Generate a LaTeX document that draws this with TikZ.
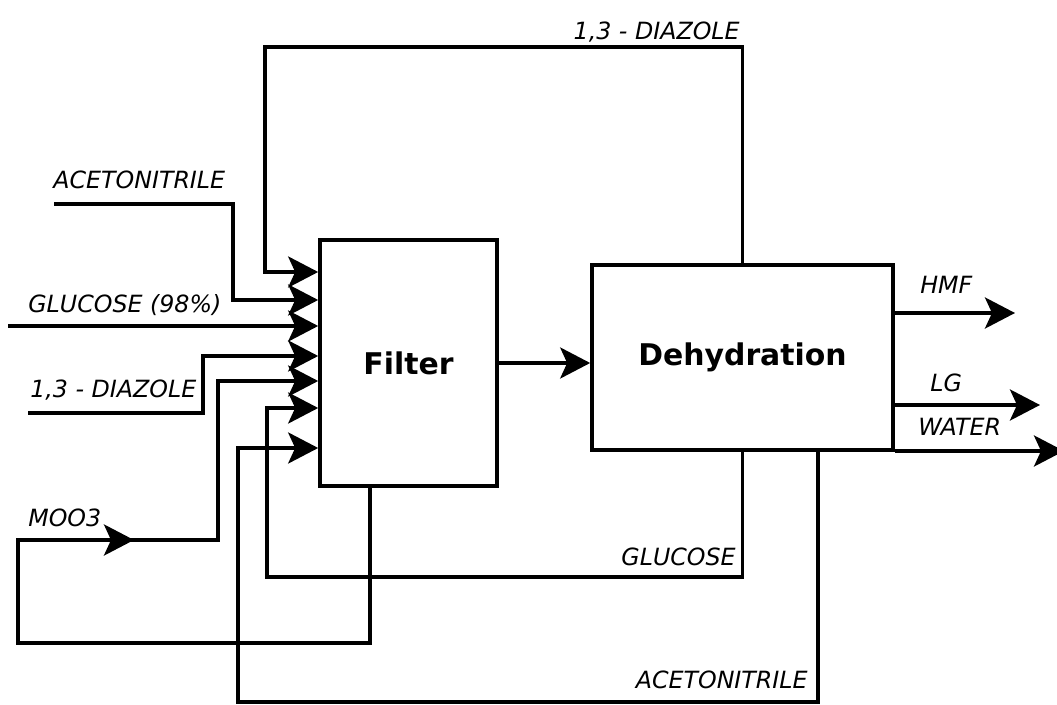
\documentclass[tikz,border=0pt]{standalone}
\usepackage{fontspec}
\setmainfont{DejaVu Sans}
\usetikzlibrary{arrows.meta}
\tikzset{
  pipe/.style={line width=2.1pt},
  flow/.style={pipe,-{Stealth[length=0.6cm,width=0.62cm,inset=0.14cm]}},
  unit/.style={draw,line width=2.1pt,font=\fontsize{17}{20}\selectfont\bfseries},
  lbl/.style={inner sep=0pt,font=\fontsize{13.5}{16}\selectfont\itshape}
}
\begin{document}
\begin{tikzpicture}[x=0.02cm,y=-0.02cm,line join=miter]
  \useasboundingbox (0,0) rectangle (1057,705);
  \node[unit,minimum width=3.54cm,minimum height=4.92cm] (filter) at (408.5,363) {Filter};
  \node[unit,minimum width=6.02cm,minimum height=3.7cm] (dehyd) at (742.5,357.5) {Dehydration};
  \foreach \n/\y in {1/272,2/300,3/326,4/356,5/381,6/408,7/448}
    \coordinate (in\n) at (filter.west |- 0,\y);
  \coordinate (aceS) at (54,204);
  \coordinate (gluS) at (8,326);
  \coordinate (diaS) at (28,413);
  \coordinate (fout) at (filter.south -| 370,0);
  \coordinate (aceR) at (dehyd.south -| 818,0);
  \coordinate (hmf) at (1015,313);
  \coordinate (lg) at (1040,405);
  \coordinate (water) at (1064,451);
  \draw[flow] (aceS) -| (233,300) -- (in2);
  \draw[flow] (gluS) -- (in3);
  \draw[flow] (diaS) -| (203,356) -- (in4);
  \draw[flow] (dehyd.north) |- (265,47) |- (in1);
  \draw[flow] (dehyd.south) |- (267,577) |- (in6);
  \draw[flow] (aceR) |- (238,702) |- (in7);
  \draw[flow] (fout) |- (18,643) |- (218,540) |- (in5);
  \draw[flow] (18,540) -- (134,540);
  \draw[flow] (filter.east) -- (filter.east -| dehyd.west);
  \draw[flow] (dehyd.east |- hmf) -- (hmf);
  \draw[flow] (dehyd.east |- lg) -- (lg);
  \draw[flow] (dehyd.east |- water) -- (water);
  \node[lbl,anchor=east] (ltop) at (740,32) {1,3 - DIAZOLE};
  \node[lbl,anchor=west] (lace) at (53,180) {ACETONITRILE};
  \node[lbl,anchor=west] (lglu) at (28,305) {GLUCOSE (98\%)};
  \node[lbl,anchor=west] (ldia) at (30,390) {1,3 - DIAZOLE};
  \node[lbl,anchor=west] (lmoo) at (28,518) {MOO3};
  \node[lbl,anchor=west] (lhmf) at (920,285) {HMF};
  \node[lbl,anchor=west] (llg) at (930,383) {LG};
  \node[lbl,anchor=west] (lwater) at (918,427) {WATER};
  \node[lbl,anchor=east] (lgluR) at (736,557) {GLUCOSE};
  \node[lbl,anchor=east] (laceR) at (808,680) {ACETONITRILE};
\end{tikzpicture}
\end{document}
